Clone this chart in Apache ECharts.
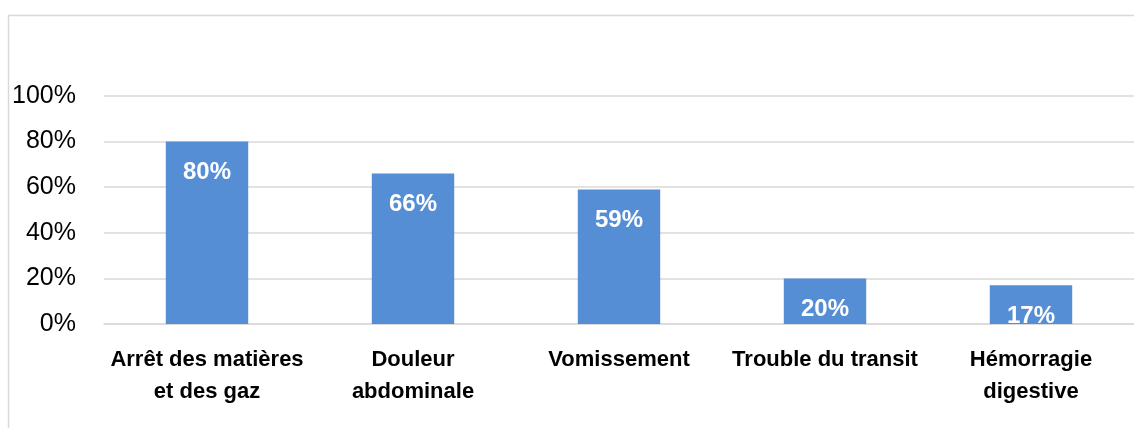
<!DOCTYPE html>
<html>
<head>
<meta charset="utf-8">
<script src="https://cdn.jsdelivr.net/npm/echarts@6/dist/echarts.min.js"></script>
<style>
	html, body { margin: 0; padding: 0; background: #fff; }
	#chart { width: 1134px; height: 428px; }
</style>
</head>
<body>
<div id="chart"></div>
<script>
const categories = [
	"Arrêt des matières\net des gaz",
	"Douleur\nabdominale",
	"Vomissement",
	"Trouble du transit",
	"Hémorragie\ndigestive",
];
const values = [80, 66, 59, 20, 17];
const yTicks = [0, 20, 40, 60, 80, 100];

const font = "Liberation Sans Narrow, Arial Narrow, Liberation Sans, sans-serif";

const chart = echarts.init(document.getElementById("chart"));
chart.setOption({
	animation: false,
	graphic: [
		{
			type: "rect",
			shape: { x: 8.5, y: 15.5, width: 1140, height: 430 },
			style: { fill: "none", stroke: "#d9d9d9", lineWidth: 1.5 },
			silent: true,
		},
	],
	grid: {
		left: 104,
		right: -10,
		top: 96,
		bottom: 104,
		containLabel: false,
	},
	xAxis: {
		type: "category",
		data: categories,
		axisTick: { show: false },
		axisLine: { lineStyle: { color: "#d9d9d9", width: 1.5 } },
		axisLabel: {
			interval: 0,
			margin: 20,
			color: "#000",
			fontFamily: font,
			fontWeight: "bold",
			fontSize: 22,
			lineHeight: 32,
		},
	},
	yAxis: {
		type: "value",
		min: yTicks[0],
		max: yTicks[yTicks.length - 1],
		interval: 20,
		axisLine: { show: false },
		axisTick: { show: false },
		splitLine: { lineStyle: { color: "#d9d9d9", width: 1.5 } },
		axisLabel: {
			margin: 28,
			color: "#000",
			fontFamily: font,
			fontSize: 25,
			formatter: "{value}%",
		},
	},
	series: [
		{
			type: "bar",
			data: values,
			barWidth: "40%",
			itemStyle: { color: "#558ed5" },
			label: {
				show: true,
				position: "insideTop",
				distance: 19,
				color: "#fff",
				fontFamily: font,
				fontWeight: "bold",
				fontSize: 24,
				formatter: "{c}%",
			},
		},
	],
});
</script>
</body>
</html>
